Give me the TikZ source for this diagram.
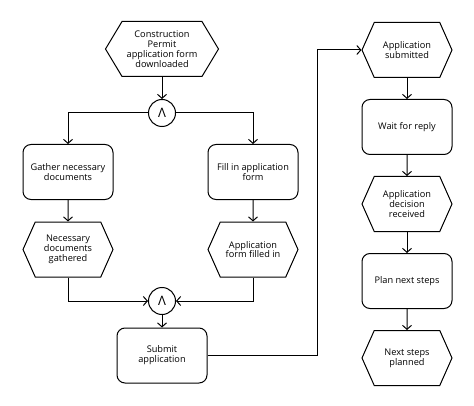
\documentclass[tikz,border=0pt]{standalone}
\usepackage{fontspec}
\setmainfont{Open Sans}
\usepackage{tikz}
\usetikzlibrary{shapes.geometric, shapes.symbols, positioning, calc}
\usetikzlibrary{arrows.meta}

\begin{document}
\begin{tikzpicture}[
    x=1pt, y=1pt,
    node distance=21pt,
    every node/.style={align=center, font=\fontsize{9.2}{9.8}\selectfont},
    event/.style={signal, signal to=east and west, signal pointer angle=132, draw, line width=1pt, minimum width=90pt, minimum height=55pt, inner sep=1pt},
    function/.style={rectangle, rounded corners=8pt, draw, line width=1pt, minimum width=90pt, minimum height=55pt},
    andgate/.style={circle, draw, line width=1pt, minimum size=27pt, inner sep=0pt, font=\fontsize{13}{13}\selectfont},
    arrow/.style={-{Straight Barb[length=4pt, width=9pt]}, line width=1pt}
]
\useasboundingbox (0,0) rectangle (474,405);

% Left column
\node[event, minimum width=113pt, signal pointer angle=118] (downloaded) at (162,356) {Construction\\Permit\\application form\\downloaded};
\node[andgate] (andone) at (162,292) {Λ};
\node[function] (gather) at (68,233) {Gather necessary\\documents};
\node[function] (fill) at (253,233) {Fill in application\\form};
\node[event] (gathered) at (68,155.5) {Necessary\\documents\\gathered};
\node[event] (filled) at (253,155.5) {Application\\form filled in};
\node[andgate] (andtwo) at (162,104) {Λ};
\node[function] (submit) at (162,49.5) {Submit\\application};

% Right column
\node[event] (submitted) at (407,355) {Application\\submitted};
\node[function, below=of submitted] (wait) {Wait for reply};
\node[event, below=of wait] (decision) {Application\\decision\\received};
\node[function, below=of decision] (plan) {Plan next steps};
\node[event, below=of plan] (planned) {Next steps\\planned};
\coordinate (bend) at (317,0);

% Arrows
\draw[arrow] (downloaded) -- (andone);
\draw[arrow] (andone) -| (gather);
\draw[arrow] (andone) -| (fill);
\draw[arrow] (gather) -- (gathered);
\draw[arrow] (fill) -- (filled);
\draw[arrow] (gathered) |- (andtwo);
\draw[arrow] (filled) |- (andtwo);
\draw[arrow] (andtwo) -- (submit);
\draw[arrow] (submit) -- (submit -| bend) |- (submitted);
\draw[arrow] (submitted) -- (wait);
\draw[arrow] (wait) -- (decision);
\draw[arrow] (decision) -- (plan);
\draw[arrow] (plan) -- (planned);

\end{tikzpicture}
\end{document}
